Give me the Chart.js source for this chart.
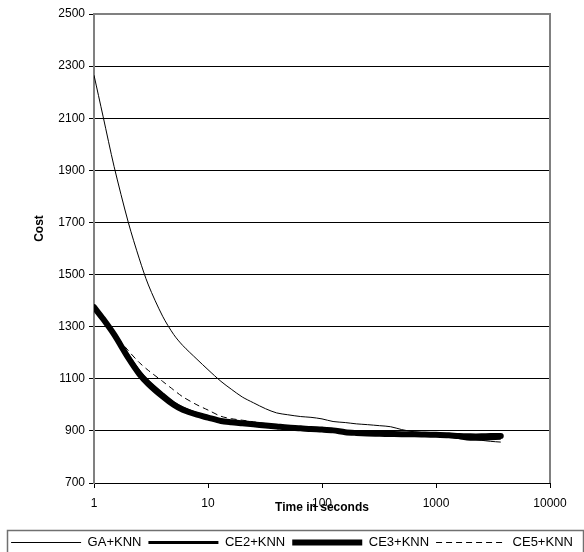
<!DOCTYPE html>
<html>
<head>
<meta charset="utf-8">
<script src="https://cdn.jsdelivr.net/npm/chart.js@4"></script>
<style>
    html, body { margin: 0; padding: 0; background: #ffffff; }
    #wrap { width: 584px; height: 552px; }
</style>
</head>
<body>
<div id="wrap"><canvas id="costChart"></canvas></div>
<script>
// time in seconds (log axis)
var timeValues = [1, 1.2, 1.5, 2, 2.5, 3, 4, 5, 6, 8, 10, 13, 16, 20, 25, 32, 40, 50, 65, 80,
    100, 125, 160, 200, 250, 320, 400, 500, 650, 800, 1000, 1300, 1600, 2000, 2500, 3000, 3700];

var gaKnn = [2265, 2108, 1915, 1700, 1560, 1460, 1340, 1270, 1228, 1175, 1135, 1090, 1060, 1030, 1008, 985, 969, 962, 955, 952,
    946, 936, 932, 927, 924, 920, 916, 905, 896, 893, 891, 887, 879, 870, 864, 860, 857];
var ce2Knn = [1375, 1333, 1275, 1188, 1128, 1090, 1042, 1008, 988, 966, 954, 940, 934, 930, 925, 921, 917, 913, 910, 907,
    905, 900, 894, 892, 890, 889, 888, 887, 886, 885, 884, 880, 874, 868, 868, 870, 872];
var ce3Knn = [1375, 1330, 1270, 1180, 1118, 1080, 1032, 1000, 981, 962, 951, 938, 933, 929, 925, 921, 917, 913, 910, 907,
    905, 902, 895, 892, 890, 889, 888, 887, 887, 886, 885, 883, 880, 879, 879, 880, 880];
var ce5Knn = [1375, 1338, 1275, 1208, 1162, 1132, 1090, 1057, 1031, 1000, 980, 956, 947, 941, 935, 928, 922, 917, 912, 909,
    906, 902, 896, 893, 891, 890, 889, 888, 887, 886, 885, 884, 882, 880, 880, 881, 882];

var seriesLabels = ['GA+KNN', 'CE2+KNN', 'CE3+KNN', 'CE5+KNN'];
var xTickValues = [1, 10, 100, 1000, 10000];

function toPoints(values) {
    return values.map(function (v, i) { return { x: timeValues[i], y: v }; });
}

var fontFamily = "'Liberation Sans', Arial, sans-serif";

// plot frame + legend box
var framePlugin = {
    id: 'framePlugin',
    afterDraw: function (chart) {
        var ctx = chart.ctx;
        var a = chart.chartArea;
        ctx.save();
        ctx.strokeStyle = '#808080';
        ctx.lineWidth = 2;
        ctx.beginPath();
        ctx.moveTo(a.left, a.top);
        ctx.lineTo(a.right, a.top);
        ctx.lineTo(a.right, a.bottom);
        ctx.stroke();

        var lg = chart.legend;
        ctx.strokeStyle = '#707070';
        ctx.lineWidth = 1.5;
        ctx.strokeRect(7.5, lg.top + 1.5, 576, 40);
        ctx.restore();
    }
};

var ctx = document.getElementById('costChart').getContext('2d');
var costChart = new Chart(ctx, {
    type: 'line',
    data: {
        datasets: [{
            label: seriesLabels[0],
            data: toPoints(gaKnn),
            borderColor: '#000000',
            borderWidth: 1
        },
        {
            label: seriesLabels[1],
            data: toPoints(ce2Knn),
            borderColor: '#000000',
            borderWidth: 3
        },
        {
            label: seriesLabels[2],
            data: toPoints(ce3Knn),
            borderColor: '#000000',
            borderWidth: 6,
            borderCapStyle: 'round'
        },
        {
            label: seriesLabels[3],
            data: toPoints(ce5Knn),
            borderColor: '#000000',
            borderWidth: 1,
            borderDash: [6, 4]
        }]
    },
    options: {
        responsive: true,
        maintainAspectRatio: false,
        animation: false,
        elements: {
            point: { radius: 0 },
            line: { tension: 0.3, backgroundColor: 'transparent', fill: false }
        },
        layout: {
            // legend box runs off the bottom edge like in the original
            padding: { top: 14, right: 0, bottom: -7, left: 0 }
        },
        plugins: {
            legend: {
                display: true,
                position: 'bottom',
                labels: {
                    color: '#000000',
                    font: { family: fontFamily, size: 13 },
                    usePointStyle: true,
                    pointStyle: 'line',
                    pointStyleWidth: 70,
                    padding: 7,
                    generateLabels: function (chart) {
                        var items = Chart.defaults.plugins.legend.labels.generateLabels(chart);
                        items.forEach(function (item) {
                            var ds = chart.data.datasets[item.datasetIndex];
                            item.lineDash = ds.borderDash || [];
                            item.lineWidth = ds.borderWidth;
                            item.strokeStyle = ds.borderColor;
                        });
                        return items;
                    }
                }
            },
            tooltip: { enabled: false }
        },
        scales: {
            x: {
                type: 'logarithmic',
                min: 1,
                max: 10000,
                afterBuildTicks: function (axis) {
                    axis.ticks = xTickValues.map(function (v) { return { value: v }; });
                },
                afterFit: function (axis) {
                    axis.height = 46;
                },
                ticks: {
                    color: '#000000',
                    font: { family: fontFamily, size: 12 },
                    padding: 8,
                    maxRotation: 0,
                    callback: function (value) { return String(value); }
                },
                grid: {
                    drawOnChartArea: false,
                    drawTicks: true,
                    tickLength: 5,
                    color: '#000000'
                },
                border: { color: '#000000', width: 1 },
                title: {
                    display: true,
                    text: 'Time in seconds',
                    color: '#000000',
                    font: { family: fontFamily, size: 12, weight: 'bold' },
                    padding: { top: 0, bottom: 14 }
                }
            },
            y: {
                min: 700,
                max: 2500,
                afterFit: function (axis) {
                    axis.width = 94;
                },
                ticks: {
                    stepSize: 200,
                    color: '#000000',
                    font: { family: fontFamily, size: 12 },
                    padding: 4,
                    callback: function (value) { return String(value); }
                },
                grid: {
                    color: '#000000',
                    lineWidth: 1,
                    tickLength: 5
                },
                border: { color: '#808080', width: 2 },
                title: {
                    display: true,
                    // leading spaces lift the title a bit above the axis middle
                    text: '            Cost',
                    color: '#000000',
                    font: { family: fontFamily, size: 12, weight: 'bold' },
                    padding: { top: 32, bottom: 0 }
                }
            },
            // empty right margin so the legend can use the full width
            yRight: {
                position: 'right',
                min: 700,
                max: 2500,
                afterFit: function (axis) {
                    axis.width = 34;
                },
                ticks: { display: false },
                grid: { display: false },
                border: { display: false }
            }
        }
    },
    plugins: [framePlugin]
});
</script>
</body>
</html>
